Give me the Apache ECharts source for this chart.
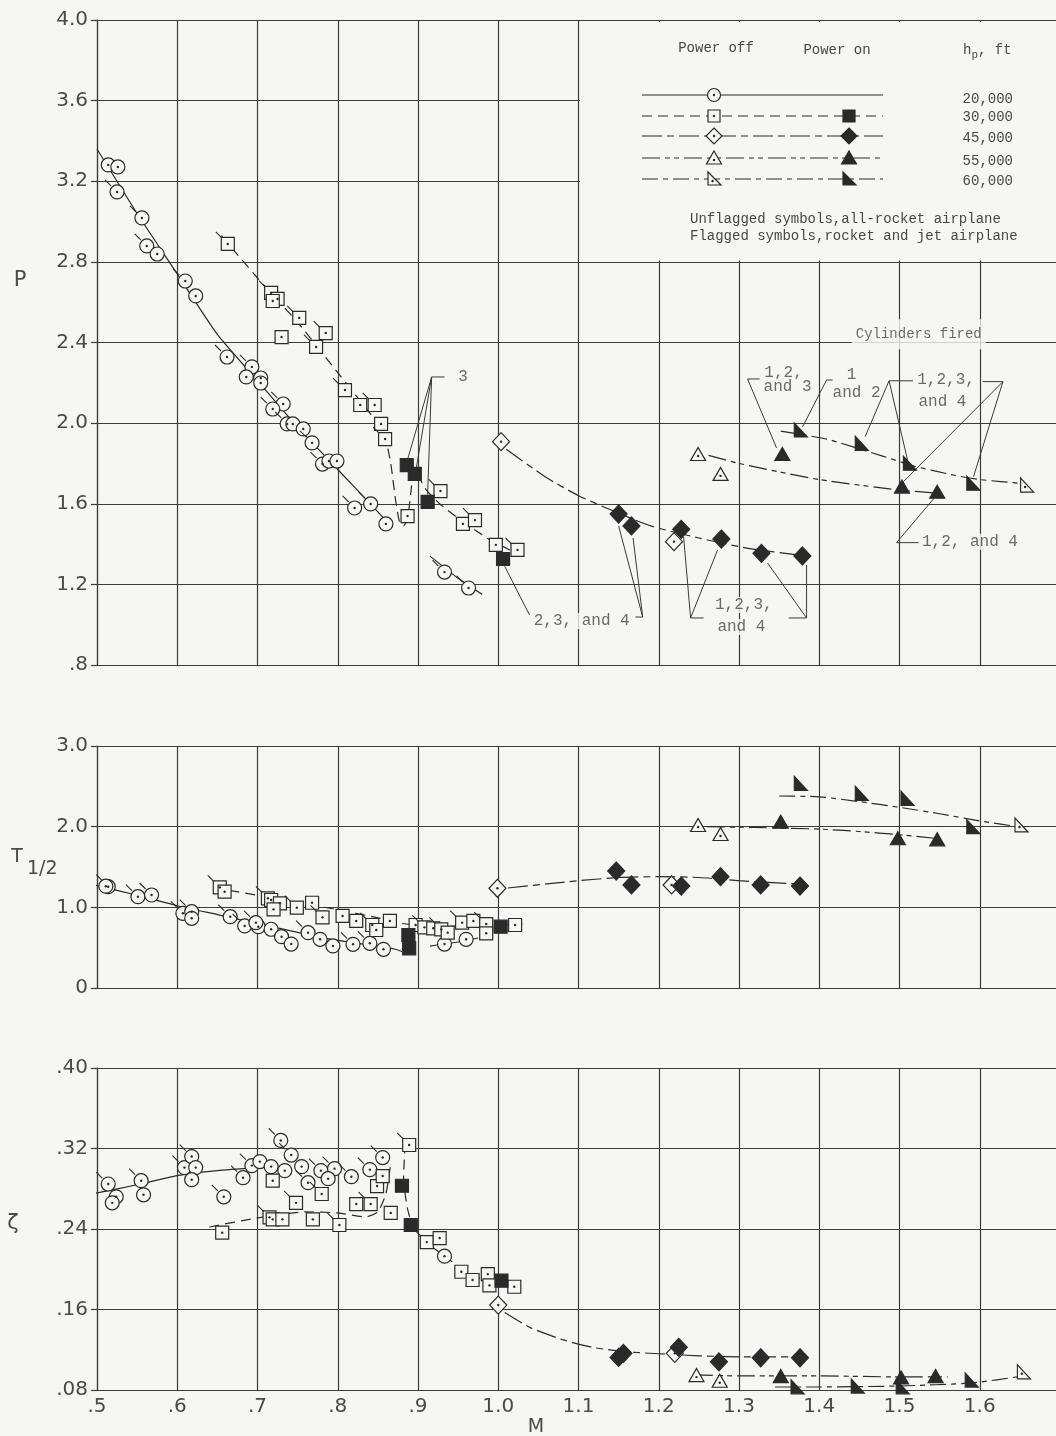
<!DOCTYPE html>
<html><head><meta charset="utf-8">
<script src="https://cdn.jsdelivr.net/npm/echarts@6/dist/echarts.min.js"></script>
<style>html,body{margin:0;padding:0;background:#f6f6f4;} #c{width:1056px;height:1436px;}</style>
</head><body><div id="c"></div>
<script>
// ---------------- DATA ----------------
// [M, value, flagged(1 = rocket and jet airplane)]
const P_CIRCLE_OFF = [[0.514,3.281,0],[0.526,3.271,0],[0.525,3.147,1],[0.556,3.018,1],[0.562,2.879,1],[0.575,2.839,0],[0.610,2.705,1],[0.623,2.631,0],[0.662,2.328,1],[0.693,2.279,1],[0.686,2.229,0],[0.704,2.224,0],[0.704,2.199,0],[0.732,2.095,1],[0.719,2.070,1],[0.737,1.996,1],[0.744,1.996,0],[0.757,1.971,0],[0.768,1.902,1],[0.781,1.797,1],[0.789,1.812,0],[0.799,1.812,0],[0.821,1.579,1],[0.841,1.599,1],[0.860,1.500,0],[0.933,1.261,1],[0.963,1.182,1]];
const P_SQUARE_OFF = [[0.663,2.889,1],[0.717,2.646,1],[0.725,2.616,0],[0.719,2.606,0],[0.752,2.522,1],[0.730,2.427,0],[0.773,2.378,1],[0.785,2.447,1],[0.809,2.164,1],[0.828,2.090,0],[0.846,2.090,1],[0.854,1.996,0],[0.859,1.921,1],[0.887,1.539,0],[0.928,1.663,1],[0.956,1.500,0],[0.971,1.519,1],[0.997,1.396,0],[1.024,1.371,1]];
const P_SQUARE_ON = [[0.886,1.792],[0.896,1.748],[0.912,1.609],[1.006,1.326]];
const P_DIAMOND_OFF = [[1.0035,1.908],[1.219,1.412]];
const P_DIAMOND_ON = [[1.150,1.549],[1.166,1.490],[1.228,1.473],[1.278,1.425],[1.328,1.354],[1.379,1.341]];
const P_TRI_OFF = [[1.249,1.847],[1.277,1.748]];
const P_TRI_ON = [[1.354,1.847],[1.503,1.685],[1.547,1.660]];
const P_RT_OFF = [[1.659,1.693]];
const P_RT_ON = [[1.377,1.966],[1.453,1.900],[1.513,1.801],[1.592,1.702]];

const P_FIT_CIRCLE = [[0.50,3.36],[0.55,3.04],[0.60,2.74],[0.65,2.44],[0.70,2.21],[0.75,1.98],[0.80,1.77],[0.85,1.56],[0.866,1.49]];
const P_FIT_CIRCLE2 = [[0.915,1.34],[0.95,1.23],[0.98,1.15]];
const P_FIT_SQUARE = [[0.655,2.93],[0.70,2.72],[0.75,2.50],[0.80,2.25],[0.84,2.05],[0.857,1.96],[0.866,1.80],[0.872,1.62],[0.877,1.51],[0.882,1.49],[0.887,1.53],[0.891,1.65],[0.895,1.77],[0.91,1.67],[0.927,1.60],[0.946,1.54],[0.971,1.47],[0.99,1.42],[1.02,1.36]];
const P_FIT_DIAMOND = [[1.01,1.87],[1.06,1.73],[1.10,1.64],[1.14,1.57],[1.19,1.49],[1.25,1.43],[1.31,1.38],[1.375,1.345]];
const P_FIT_TRI = [[1.262,1.84],[1.30,1.80],[1.40,1.72],[1.50,1.668],[1.55,1.652]];
const P_FIT_RT = [[1.352,1.96],[1.41,1.92],[1.48,1.835],[1.52,1.785],[1.57,1.74],[1.60,1.72],[1.655,1.70]];

const T_CIRCLE_OFF = [[0.514,1.256,1],[0.511,1.262,0],[0.551,1.132,1],[0.568,1.153,1],[0.607,0.926,1],[0.618,0.946,1],[0.618,0.864,0],[0.666,0.884,1],[0.684,0.769,1],[0.701,0.760,0],[0.698,0.810,1],[0.717,0.728,0],[0.730,0.636,0],[0.742,0.545,0],[0.763,0.686,1],[0.778,0.604,0],[0.794,0.521,0],[0.819,0.542,1],[0.840,0.554,1],[0.857,0.480,0],[0.933,0.545,0],[0.960,0.604,0]];
const T_SQUARE_OFF = [[0.653,1.248,1],[0.659,1.194,0],[0.713,1.112,1],[0.717,1.091,0],[0.728,1.050,0],[0.720,0.975,0],[0.749,0.996,1],[0.768,1.057,0],[0.781,0.876,1],[0.806,0.893,0],[0.823,0.831,0],[0.843,0.781,1],[0.848,0.719,0],[0.865,0.831,0],[0.897,0.781,0],[0.908,0.752,1],[0.919,0.740,0],[0.929,0.727,1],[0.937,0.686,0],[0.955,0.810,1],[0.969,0.831,0],[0.985,0.793,1],[0.985,0.678,0],[1.021,0.781,0]];
const T_SQUARE_ON = [[0.888,0.657],[0.889,0.492],[1.003,0.760]];
const T_DIAMOND_OFF = [[0.999,1.236],[1.216,1.277]];
const T_DIAMOND_ON = [[1.147,1.450],[1.166,1.277],[1.228,1.264],[1.277,1.380],[1.327,1.277],[1.376,1.264]];
const T_TRI_OFF = [[1.249,2.021],[1.277,1.909]];
const T_TRI_ON = [[1.352,2.062],[1.498,1.856],[1.547,1.843]];
const T_RT_OFF = [[1.652,2.021]];
const T_RT_ON = [[1.377,2.538],[1.453,2.414],[1.510,2.352],[1.592,2.000]];

const T_FIT_CIRCLE = [[0.495,1.28],[0.55,1.15],[0.60,1.02],[0.65,0.91],[0.70,0.80],[0.75,0.69],[0.80,0.59],[0.85,0.52],[0.872,0.48],[0.885,0.43]];
const T_FIT_CIRCLE2 = [[0.915,0.52],[0.95,0.57],[0.975,0.62]];
const T_FIT_SQUARE = [[0.665,1.21],[0.70,1.15],[0.75,1.06],[0.80,0.97],[0.85,0.87],[0.88,0.80],[0.92,0.76],[0.96,0.77],[1.0,0.78],[1.03,0.79]];
const T_FIT_DIAMOND = [[1.012,1.24],[1.06,1.29],[1.10,1.33],[1.15,1.37],[1.20,1.38],[1.25,1.37],[1.30,1.33],[1.375,1.29]];
const T_FIT_TRI = [[1.26,2.00],[1.32,1.99],[1.40,1.97],[1.45,1.94],[1.50,1.90],[1.55,1.85]];
const T_FIT_RT = [[1.35,2.38],[1.40,2.37],[1.45,2.31],[1.50,2.24],[1.55,2.16],[1.60,2.07],[1.655,1.99]];

const Z_CIRCLE_OFF = [[0.514,0.2847,1],[0.524,0.272,0],[0.519,0.266,0],[0.555,0.288,1],[0.558,0.274,0],[0.609,0.301,1],[0.618,0.312,1],[0.623,0.301,0],[0.618,0.289,0],[0.658,0.272,1],[0.682,0.291,1],[0.693,0.303,1],[0.703,0.307,0],[0.717,0.302,0],[0.729,0.328,1],[0.734,0.298,0],[0.742,0.3135,1],[0.755,0.302,0],[0.763,0.286,1],[0.779,0.298,1],[0.796,0.300,1],[0.788,0.290,0],[0.817,0.292,1],[0.840,0.299,1],[0.856,0.311,1],[0.933,0.213,0]];
const Z_SQUARE_OFF = [[0.656,0.2363,0],[0.715,0.2516,1],[0.719,0.2496,0],[0.731,0.2496,0],[0.719,0.288,0],[0.748,0.266,1],[0.769,0.2496,0],[0.780,0.2748,1],[0.802,0.244,1],[0.823,0.2648,0],[0.841,0.2648,1],[0.849,0.2827,0],[0.856,0.2926,0],[0.866,0.256,0],[0.889,0.3235,1],[0.911,0.227,1],[0.927,0.231,0],[0.954,0.1975,0],[0.968,0.1893,0],[0.987,0.1952,0],[0.989,0.184,0],[1.020,0.1826,1]];
const Z_SQUARE_ON = [[0.880,0.283],[0.891,0.244],[1.004,0.1886]];
const Z_DIAMOND_OFF = [[1.000,0.1644],[1.220,0.1164]];
const Z_DIAMOND_ON = [[1.156,0.1164],[1.150,0.1124],[1.225,0.1224],[1.275,0.108],[1.327,0.112],[1.376,0.112]];
const Z_TRI_OFF = [[1.247,0.0948],[1.276,0.0892]];
const Z_TRI_ON = [[1.352,0.0938],[1.502,0.0925],[1.545,0.0938]];
const Z_RT_OFF = [[1.655,0.0981]];
const Z_RT_ON = [[1.373,0.0832],[1.448,0.0839],[1.504,0.0832],[1.590,0.0899]];

const Z_FIT_CIRCLE = [[0.495,0.275],[0.55,0.284],[0.60,0.293],[0.65,0.298],[0.70,0.301]];
const Z_FIT_SQUARE = [[0.64,0.242],[0.70,0.251],[0.76,0.257],[0.80,0.256],[0.835,0.252],[0.85,0.257],[0.86,0.275],[0.866,0.305]];
const Z_FIT_SQUARE2 = [[0.884,0.325],[0.882,0.29],[0.887,0.26],[0.895,0.24],[0.91,0.227],[0.94,0.209],[0.97,0.193],[1.0,0.186],[1.02,0.182]];
const Z_FIT_DIAMOND = [[1.008,0.157],[1.04,0.142],[1.08,0.130],[1.12,0.122],[1.16,0.118],[1.20,0.116],[1.25,0.114],[1.30,0.113],[1.376,0.113]];
const Z_FIT_TRI = [[1.245,0.095],[1.30,0.094],[1.40,0.094],[1.50,0.093],[1.56,0.093]];
const Z_FIT_RT = [[1.345,0.083],[1.40,0.083],[1.50,0.084],[1.59,0.087],[1.655,0.094]];

const X_TICKS = {min:0.5, max:1.7, interval:0.1};
const ALTITUDES = ['20,000','30,000','45,000','55,000','60,000'];

// annotations (anchored in data coordinates of the P panel)
const P_NOTES = [
  ['3',[0.956,2.229]], ['2,3, and 4',[1.104,1.018]],
  ['1,2,3,',[1.306,1.098]], ['and 4',[1.303,0.989]],
  ['1,2,',[1.3555,2.249]], ['and 3',[1.3605,2.181]],
  ['1',[1.4402,2.239]], ['and 2',[1.4465,2.150]],
  ['1,2,3,',[1.558,2.214]], ['and 4',[1.5535,2.106]],
  ['1,2, and 4',[1.5878,1.412]]
];
const P_HEADING = ['Cylinders fired',[1.524,2.441]];
const P_LEADERS = [
  [[0.917,2.229],[0.933,2.229]], [[0.917,2.229],[0.887,1.82]], [[0.917,2.229],[0.898,1.78]], [[0.917,2.229],[0.912,1.645]],
  [[1.008,1.29],[1.039,1.048]], [[1.171,1.038],[1.180,1.038],[1.150,1.49]], [[1.180,1.038],[1.168,1.43]],
  [[1.2559,1.0333],[1.2397,1.0333],[1.231,1.435]], [[1.2397,1.0333],[1.2733,1.371]],
  [[1.3618,1.0333],[1.3842,1.0333],[1.3842,1.296]], [[1.3842,1.0333],[1.3356,1.306]],
  [[1.3257,2.219],[1.3107,2.219],[1.3468,1.877]],
  [[1.4166,2.214],[1.4091,2.214],[1.3792,1.981]],
  [[1.5168,2.210],[1.4870,2.210],[1.4572,1.933]], [[1.4870,2.210],[1.5100,1.817]],
  [[1.6037,2.206],[1.6289,2.206],[1.5922,1.734]], [[1.6289,2.206],[1.505,1.71]],
  [[1.5237,1.407],[1.4963,1.407],[1.5466,1.644]]
];

// ---------------- STYLE ----------------
const BG = '#f6f6f4', INK = '#2a2a2a', GRIDC = '#3c3c3c', TXT = '#474747', LAB = '#4a4a4a';
const SANS = '"DejaVu Sans", "Liberation Sans", sans-serif';
const MONO = '"Liberation Mono", "DejaVu Sans Mono", monospace';
const DASH = {circle:'solid', square:[10,6], diamond:[20,5,7,5], tri:[18,5,5,4,5,5], rt:[16,5,5,5]};
const SYM = {
  circle: {symbol:'circle', size:14, dot:[0,0]},
  square: {symbol:'rect', size:13, dot:[0,0]},
  diamond:{symbol:'diamond', size:[17,18], dot:[0,0]},
  tri:    {symbol:'triangle', size:[15,13], dot:[0,2]},
  rt:     {symbol:'path://M0,0L0,10L10,10Z', size:[13,14], dot:[-2,2]}
};

const series = [];
function fit(pi, data, kind){
  series.push({type:'line', xAxisIndex:pi, yAxisIndex:pi, data:data, showSymbol:false, symbol:'none',
    smooth:0.2, lineStyle:{color:INK, width:1.2, type:DASH[kind]}, z:2, silent:true});
}
function marks(pi, data, kind, filled){
  const s = SYM[kind];
  const xy = data.map(p=>[p[0],p[1]]);
  series.push({type:'scatter', xAxisIndex:pi, yAxisIndex:pi, data:xy, symbol:s.symbol, symbolSize:s.size,
    itemStyle:{color: filled?INK:BG, borderColor:INK, borderWidth:1.2, opacity:1}, z: filled?4:3, silent:true});
  if(!filled){
    series.push({type:'scatter', xAxisIndex:pi, yAxisIndex:pi, data:xy, symbol:'circle', symbolSize:2.4,
      symbolOffset:s.dot, itemStyle:{color:INK, opacity:1}, z:5, silent:true});
  }
  const fl = data.filter(p=>p[2]).map(p=>[p[0],p[1]]);
  if(fl.length){
    series.push({type:'scatter', xAxisIndex:pi, yAxisIndex:pi, data:fl, symbol:'path://M0,0L10,10', symbolSize:6,
      symbolOffset:[-9,-9], itemStyle:{color:'none', borderColor:INK, borderWidth:1.1, opacity:1}, z:5, silent:true});
  }
}
function panel(pi, d){
  d.fits.forEach(f=>fit(pi, f[0], f[1]));
  marks(pi, d.circleOff, 'circle', false);
  marks(pi, d.squareOff, 'square', false);
  marks(pi, d.squareOn, 'square', true);
  marks(pi, d.diamondOff, 'diamond', false);
  marks(pi, d.diamondOn, 'diamond', true);
  marks(pi, d.triOff, 'tri', false);
  marks(pi, d.triOn, 'tri', true);
  marks(pi, d.rtOff, 'rt', false);
  marks(pi, d.rtOn, 'rt', true);
}
panel(0, {fits:[[P_FIT_CIRCLE,'circle'],[P_FIT_CIRCLE2,'circle'],[P_FIT_SQUARE,'square'],[P_FIT_DIAMOND,'diamond'],[P_FIT_TRI,'tri'],[P_FIT_RT,'rt']],
  circleOff:P_CIRCLE_OFF, squareOff:P_SQUARE_OFF, squareOn:P_SQUARE_ON, diamondOff:P_DIAMOND_OFF, diamondOn:P_DIAMOND_ON,
  triOff:P_TRI_OFF, triOn:P_TRI_ON, rtOff:P_RT_OFF, rtOn:P_RT_ON});
panel(1, {fits:[[T_FIT_CIRCLE,'circle'],[T_FIT_CIRCLE2,'circle'],[T_FIT_SQUARE,'square'],[T_FIT_DIAMOND,'diamond'],[T_FIT_TRI,'tri'],[T_FIT_RT,'rt']],
  circleOff:T_CIRCLE_OFF, squareOff:T_SQUARE_OFF, squareOn:T_SQUARE_ON, diamondOff:T_DIAMOND_OFF, diamondOn:T_DIAMOND_ON,
  triOff:T_TRI_OFF, triOn:T_TRI_ON, rtOff:T_RT_OFF, rtOn:T_RT_ON});
panel(2, {fits:[[Z_FIT_CIRCLE,'circle'],[Z_FIT_SQUARE,'square'],[Z_FIT_SQUARE2,'square'],[Z_FIT_DIAMOND,'diamond'],[Z_FIT_TRI,'tri'],[Z_FIT_RT,'rt']],
  circleOff:Z_CIRCLE_OFF, squareOff:Z_SQUARE_OFF, squareOn:Z_SQUARE_ON, diamondOff:Z_DIAMOND_OFF, diamondOn:Z_DIAMOND_ON,
  triOff:Z_TRI_OFF, triOn:Z_TRI_ON, rtOff:Z_RT_OFF, rtOn:Z_RT_ON});

// annotations
series.push({type:'scatter', xAxisIndex:0, yAxisIndex:0, silent:true, z:1,
  data: P_NOTES.map(n=>({value:n[1], label:{formatter:n[0]}})),
  symbolSize:1, itemStyle:{color:'rgba(0,0,0,0)'},
  label:{show:true, position:'inside', fontFamily:MONO, fontSize:16, color:TXT, backgroundColor:BG, padding:[0,1]}});
series.push({type:'scatter', xAxisIndex:0, yAxisIndex:0, silent:true, z:1,
  data:[{value:P_HEADING[1], label:{formatter:P_HEADING[0]}}],
  symbolSize:1, itemStyle:{color:'rgba(0,0,0,0)'},
  label:{show:true, position:'inside', fontFamily:MONO, fontSize:14, color:TXT, backgroundColor:BG, padding:[15,4,1,4]}});
series.push({type:'lines', coordinateSystem:'cartesian2d', xAxisIndex:0, yAxisIndex:0, polyline:true, silent:true, z:2,
  data: P_LEADERS.map(c=>({coords:c})), lineStyle:{color:'#3a3a3a', width:1, opacity:1, curveness:0}});

// ---------------- AXES ----------------
const GRIDS = [{top:20,height:645},{top:746,height:242},{top:1068,height:322}];
const Y_DEF = [
  {min:0.8, max:4.0, interval:0.4, fmt:v=> v<1 ? '.'+Math.round(v*10) : v.toFixed(1)},
  {min:0, max:3.0, interval:1.0, fmt:v=> v===0 ? '0' : v.toFixed(1)},
  {min:0.08, max:0.40, interval:0.08, fmt:v=> v.toFixed(2).slice(1)}
];
const lineS = {color:GRIDC, width:1.2};
const option = {
  backgroundColor: BG,
  animation: false,
  grid: GRIDS.map(g=>({left:97, width:963, top:g.top, height:g.height, containLabel:false, outerBoundsMode:'none'})),
  xAxis: GRIDS.map((g,i)=>({type:'value', gridIndex:i, min:X_TICKS.min, max:X_TICKS.max, interval:X_TICKS.interval,
    axisLine:{show:true, lineStyle:lineS}, axisTick:{show:false}, splitLine:{show:true, lineStyle:lineS},
    axisLabel:{show:i===2, margin:7, fontFamily:SANS, fontSize:20, color:LAB,
      formatter:v=>{ if(v>1.65) return ''; const s=v.toFixed(1); return v<1 ? s.slice(1) : s; }}})),
  yAxis: Y_DEF.map((y,i)=>({type:'value', gridIndex:i, min:y.min, max:y.max, interval:y.interval,
    axisLine:{show:true, lineStyle:lineS}, axisTick:{show:true, length:6, inside:false, lineStyle:lineS},
    splitLine:{show:true, lineStyle:lineS},
    axisLabel:{margin:9, fontFamily:SANS, fontSize:20, color:LAB, formatter:y.fmt}})),
  series: series
};

// ---------------- LEGEND & AXIS TITLES (graphic) ----------------
const G = [];
G.push({type:'rect', shape:{x:580, y:22, width:480, height:238.5}, style:{fill:BG}, z:50, silent:true});
function txt(text, x, y, size, family, align, color){
  return {type:'text', x:x, y:y, z:60, silent:true,
    style:{text:text, fontSize:size, fontFamily:family, fill:color||TXT, align:align||'center', textAlign:align||'center',
      verticalAlign:'middle', textVerticalAlign:'middle'}};
}
G.push(txt('Power off', 716, 48, 14, MONO));
G.push(txt('Power on', 837, 50, 14, MONO));
G.push(txt('h', 963, 50, 14, MONO, 'left'));
G.push(txt('p', 971.5, 55, 11, MONO, 'left'));
G.push(txt(', ft', 978, 50, 14, MONO, 'left'));
const LEG_KINDS = ['circle','square','diamond','tri','rt'];
const LEG_Y = [95,116,136,158,179];
const LEG_VY = [99,117.7,138.3,161.7,181.7];
function legSym(kind, cx, cy, filled){
  const style = {fill: filled?INK:BG, stroke:INK, lineWidth:1.2};
  let el;
  if(kind==='circle') el = {type:'circle', shape:{cx:cx, cy:cy, r:6.5}};
  else if(kind==='square') el = {type:'rect', shape:{x:cx-6, y:cy-6, width:12, height:12}};
  else if(kind==='diamond') el = {type:'polygon', shape:{points:[[cx,cy-8],[cx+8,cy],[cx,cy+8],[cx-8,cy]]}};
  else if(kind==='tri') el = {type:'polygon', shape:{points:[[cx,cy-7],[cx+7.5,cy+6],[cx-7.5,cy+6]]}};
  else el = {type:'polygon', shape:{points:[[cx-6,cy-7],[cx-6,cy+6],[cx+7,cy+6]]}};
  el.style = style; el.z = 62; el.silent = true;
  return el;
}
LEG_KINDS.forEach((k,i)=>{
  const y = LEG_Y[i];
  G.push({type:'line', shape:{x1:642, y1:y, x2:883, y2:y}, style:{stroke:INK, lineWidth:1.1, lineDash: DASH[k]==='solid'?null:DASH[k]}, z:61, silent:true});
  G.push(legSym(k, 714, y, false));
  const d = SYM[k].dot;
  G.push({type:'circle', shape:{cx:714+d[0]*0.7, cy:y+d[1], r:1.2}, style:{fill:INK}, z:63, silent:true});
  if(i>0) G.push(legSym(k, 849, y, true));
  G.push(txt(ALTITUDES[i], 1013, LEG_VY[i], 14, MONO, 'right'));
});
G.push(txt('Unflagged symbols,all-rocket airplane', 690, 219, 14, MONO, 'left'));
G.push(txt('Flagged symbols,rocket and jet airplane', 690, 236, 14, MONO, 'left'));
// axis titles
G.push(txt('P', 20, 281, 21, SANS, 'center', LAB));
G.push(txt('T', 17, 857, 19, SANS, 'center', LAB));
G.push(txt('1/2', 27, 869, 19, SANS, 'left', LAB));
G.push(txt('ζ', 13, 1224, 21, SANS, 'center', LAB));
G.push(txt('M', 536, 1427, 19, SANS, 'center', LAB));
option.graphic = {elements: G};

const chart = echarts.init(document.getElementById('c'), null, {renderer:'canvas'});
chart.setOption(option);
</script></body></html>
